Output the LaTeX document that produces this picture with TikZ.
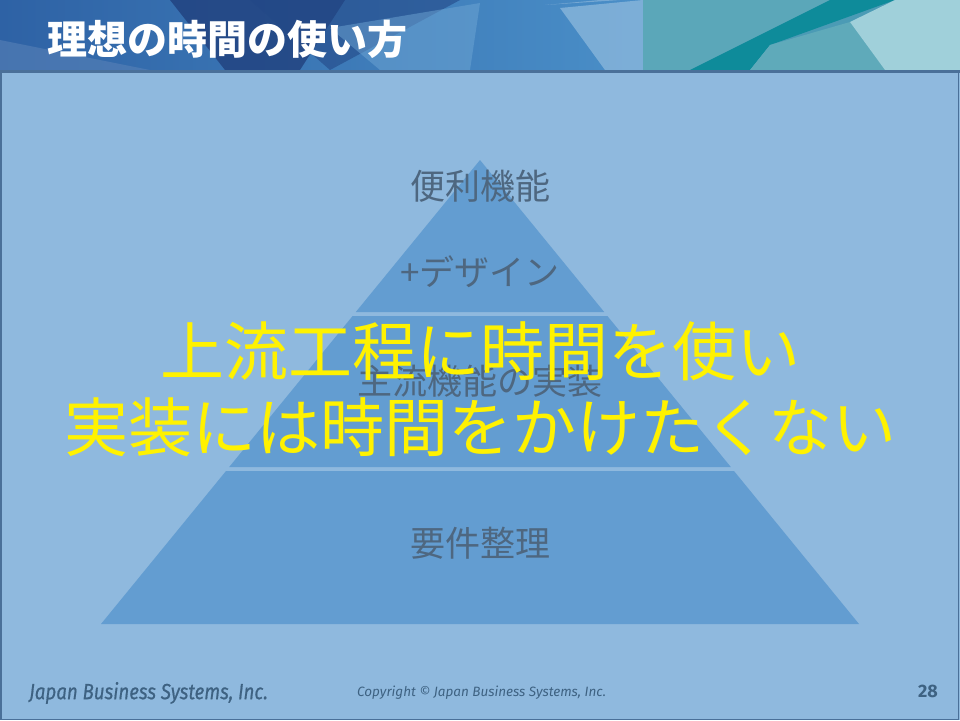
\documentclass[tikz,border=0pt]{standalone}
\usepackage{fontspec}
\newfontfamily\jp{Noto Sans CJK JP}
\newfontfamily\foot[FakeStretch=0.85,FakeBold=0.6]{Fira Sans}
\newfontfamily\footc{Fira Sans}
\newfontfamily\pagef{Fira Sans}
\usetikzlibrary{calc}
\definecolor{bg}{HTML}{8FB9DE}
\definecolor{pyr}{HTML}{639DD1}
\definecolor{lbl}{HTML}{4E6780}
\definecolor{edge}{HTML}{4A7099}
\definecolor{ft}{HTML}{3E6282}
\definecolor{hA}{HTML}{2E62A5}
\definecolor{hB}{HTML}{4A8FC8}
\definecolor{navy}{HTML}{1F3D7A}
\definecolor{teal}{HTML}{0E8B9A}
\definecolor{tealL}{HTML}{5FAABA}
\definecolor{tealM}{HTML}{4B9BB5}
\definecolor{pale}{HTML}{A0D0DA}
\tikzset{
  layer/.style={fill=pyr, draw=none},
  plabel/.style={font=\jp\fontsize{35}{38}\selectfont, text=lbl, inner sep=0pt},
  bigtext/.style={font=\jp\fontsize{64}{76}\selectfont, text=yellow, align=center, inner sep=0pt},
}
\begin{document}
\begin{tikzpicture}[x=1pt,y=-1pt]
\useasboundingbox (0,0) rectangle (960,720);
% body
\fill[bg] (0,0) rectangle (960,720);
\draw[edge, line width=1.5pt] (0.75,71) -- (0.75,719.25) -- (958.5,719.25) -- (958.5,71);
% header
\shade[left color=hA, right color=hB] (0,0) rectangle (643,70);
\fill[hA!80!white, opacity=0.6] (0,40) -- (150,70) -- (0,70) -- cycle;
\fill[navy, opacity=0.75] (170,0) -- (345,0) -- (300,70) -- (225,70) -- cycle;
\fill[navy!70!hA, opacity=0.6] (250,0) -- (460,0) -- (330,70) -- cycle;
\fill[hB!80!white, opacity=0.5] (330,28) -- (480,3) -- (470,70) -- (380,70) -- cycle;
\fill[hB!60!white, opacity=0.7] (560,8) -- (643,0) -- (643,70) -- (605,70) -- cycle;
\fill[white, opacity=0.25] (545,5) -- (600,0) -- (620,0) -- cycle;
\fill[tealM] (643,0) rectangle (960,70);
\fill[tealL!80!tealM] (643,0) -- (830,0) -- (690,70) -- (643,70) -- cycle;
\fill[teal] (690,70) -- (830,0) -- (895,0) -- (770,45) -- (750,70) -- cycle;
\fill[tealL] (750,70) -- (770,45) -- (850,22) -- (885,70) -- cycle;
\fill[pale] (895,0) -- (960,0) -- (960,70) -- (885,70) -- (850,22) -- cycle;
\fill[edge] (0,70) rectangle (960,72.5);
\node[font=\jp\bfseries\fontsize{40}{42}\selectfont, text=white, anchor=west, inner sep=0pt] (title) at (47,39) {理想の時間の使い方};
% pyramid
\fill[layer] (480,160) -- (604.2,312) -- (355.8,312) -- cycle;
\fill[layer] (352.6,316) -- (607.4,316) -- (730.8,467) -- (229.2,467) -- cycle;
\fill[layer] (226,471) -- (734,471) -- (859,624) -- (101,624) -- cycle;
\node[plabel] (l1) at (480,186) {便利機能};
\node[plabel] (l2) at (480,272) {+デザイン};
\node[plabel] (l3) at (480,381) {主流機能の実装};
\node[plabel] (l4) at (480,543) {要件整理};
\node[bigtext] (msg) at (480,389) {上流工程に時間を使い\\実装には時間をかけたくない};
% footer
\node[font=\foot\itshape\fontsize{22}{24}\selectfont, text=ft, anchor=west, inner sep=0pt] (logo) at (29,693) {Japan Business Systems, Inc.};
\node[font=\footc\itshape\fontsize{13.5}{15}\selectfont, text=ft, anchor=west, inner sep=0pt] (copy) at (357,693) {Copyright © Japan Business Systems, Inc.};
\node[font=\pagef\bfseries\fontsize{18}{20}\selectfont, text=ft, anchor=east, inner sep=0pt] (page) at (938,691) {28};
\end{tikzpicture}
\end{document}
